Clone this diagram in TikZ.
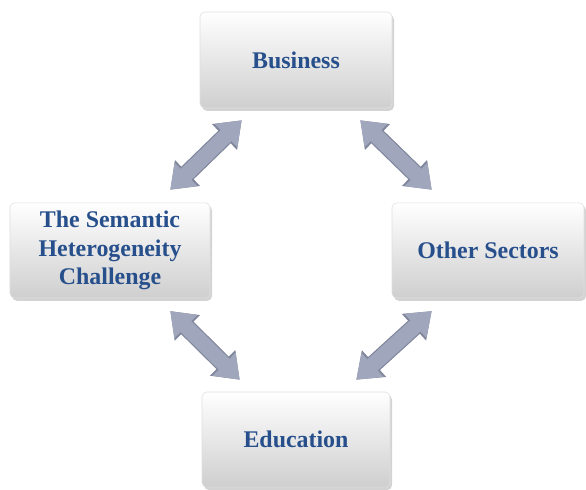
\documentclass[tikz,border=0pt]{standalone}
\usepackage{fontspec}
\setmainfont{Liberation Serif}
\usetikzlibrary{arrows.meta,shadows}

\definecolor{boxtext}{RGB}{38,79,140}
\definecolor{linkgray}{RGB}{160,166,188}
\definecolor{linkedge}{RGB}{128,134,156}

\begin{document}
\begin{tikzpicture}[%
      box/.style={rounded corners=0.12cm, draw=gray!25, line width=0.4pt,
        top color=white, bottom color=gray!38, align=center,
        font=\fontsize{17}{20}\selectfont\bfseries, text=boxtext,
        drop shadow={shadow xshift=0.05cm, shadow yshift=-0.07cm, opacity=0.35}},
      link/.style={line width=0.38cm, draw=linkgray,
        {Triangle[width=0.78cm,length=0.55cm]}-{Triangle[width=0.78cm,length=0.55cm]},
        preaction={draw=linkedge, line width=0.44cm,
          {Triangle[width=0.86cm,length=0.6cm]}-{Triangle[width=0.86cm,length=0.6cm]}}},
      ]
      \useasboundingbox (0,0) rectangle (14.65,-12.225);

      % the four boxes
      \node[box, minimum width=4.8cm, minimum height=2.4cm] (biz) at (7.4,-1.5) {Business};
      \node[box, minimum width=5.0cm, minimum height=2.38cm] (sem) at (2.75,-6.26)
        {The Semantic\\Heterogeneity\\Challenge};
      \node[box, minimum width=4.8cm, minimum height=2.38cm] (oth) at (12.2,-6.26) {Other Sectors};
      \node[box, minimum width=4.7cm, minimum height=2.38cm] (edu) at (7.4,-10.99) {Education};

      % double arrows between them
      \draw[link] ([xshift=1.05cm,yshift=-0.3cm]biz.south west)
        -- ([xshift=-1.0cm,yshift=0.32cm]sem.north east);
      \draw[link] ([xshift=-0.8cm,yshift=-0.3cm]biz.south east)
        -- ([xshift=1.0cm,yshift=0.32cm]oth.north west);
      \draw[link] ([xshift=-1.0cm,yshift=-0.32cm]sem.south east)
        -- ([xshift=0.95cm,yshift=0.3cm]edu.north west);
      \draw[link] ([xshift=1.0cm,yshift=-0.32cm]oth.south west)
        -- ([xshift=-0.85cm,yshift=0.3cm]edu.north east);
\end{tikzpicture}
\end{document}
